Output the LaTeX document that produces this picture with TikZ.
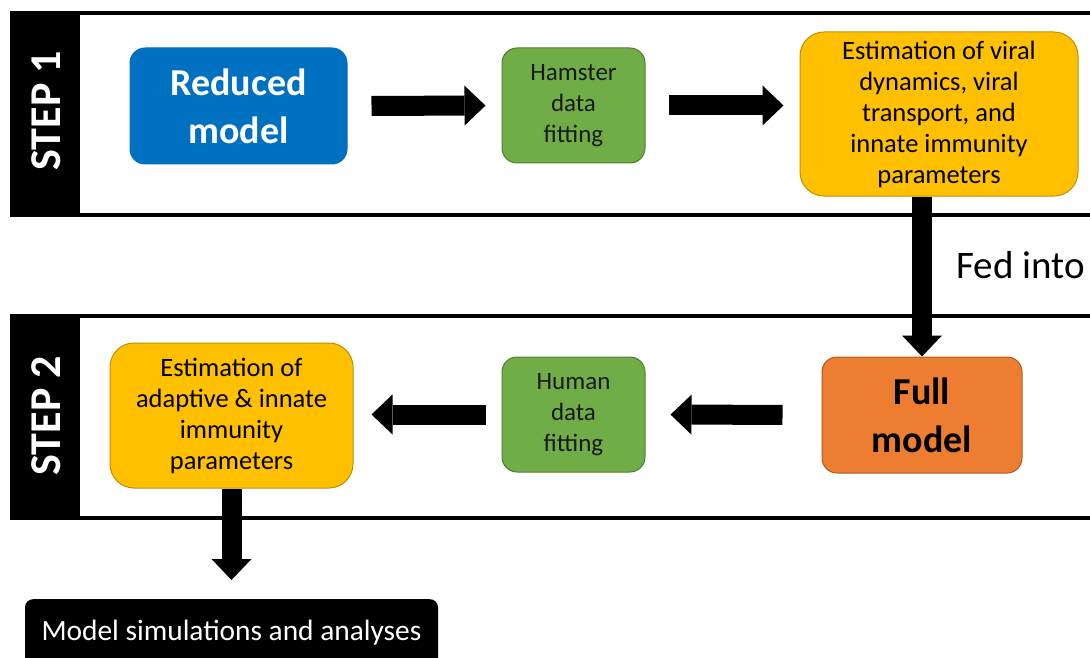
\documentclass[tikz,border=0pt]{standalone}
\usepackage{fontspec}
\setmainfont{Carlito}
\usetikzlibrary{arrows.meta, calc, positioning}
\definecolor{modelblue}{HTML}{0070C0}
\definecolor{fitgreen}{HTML}{70AD47}
\definecolor{fitgreenline}{HTML}{507E32}
\definecolor{estyellow}{HTML}{FFC000}
\definecolor{estyellowline}{HTML}{BF9000}
\definecolor{fullorange}{HTML}{ED7D31}
\definecolor{fullorangeline}{HTML}{AE5A21}
\tikzset{box/.style = {draw, rounded corners=15pt, align=center, inner sep=0pt, line width=1pt}}
\tikzset{model-b/.style = {box, font=\bfseries\fontsize{38}{48}\selectfont}}
\tikzset{fit-b/.style = {box, fill=fitgreen, draw=fitgreenline, text=black!90,
    minimum width=143pt, minimum height=115pt, font=\fontsize{25}{31}\selectfont}}
\tikzset{est-b/.style = {box, fill=estyellow, draw=estyellowline, rounded corners=24pt,
    font=\fontsize{26.5}{31}\selectfont}}
\tikzset{fat/.style = {line width=20pt, -{Triangle[length=21pt, width=40pt, line width=0pt]}}}

\begin{document}
\begin{tikzpicture}[x=1pt, y=-1pt]
  \useasboundingbox (0,0) rectangle (1090,658);
  \clip (0,0) rectangle (1090,658);
  \tikzset{steplabel/.style = {rotate=90, text=white, font=\bfseries\fontsize{44}{44}\selectfont}}

  % the two step frames
  \fill (10,12) rectangle (80,216);
  \draw[line width=4pt] (10,13.5) -- (1100,13.5) (10,214.5) -- (1100,214.5);
  \node[steplabel] (s1) at (46,111) {STEP 1};
  \fill (10,314) rectangle (80,519);
  \draw[line width=4pt] (10,315.5) -- (1100,315.5) (10,517.5) -- (1100,517.5);
  \node[steplabel] (s2) at (46,416) {STEP 2};

  \node[model-b, fill=modelblue, draw=modelblue, text=white,
        minimum width=217pt, minimum height=116pt] (reduced) at (238.5,106) {Reduced\\model};
  \node[fit-b] (hamster) at (573.5,105.5) {Hamster\\data\\fitting};
  \node[est-b, minimum width=278pt, minimum height=164pt] (est1) at (939,114)
    {Estimation of viral\\dynamics, viral\\transport, and\\innate immunity\\parameters};

  \node[model-b, fill=fullorange, draw=fullorangeline, text=black,
        minimum width=200pt, minimum height=116pt] (full) at (922,415) {Full\\model};
  \node[fit-b] (human) at (573.5,414.5) {Human\\data\\fitting};
  \node[est-b, minimum width=243pt, minimum height=145pt] (est2) at (231.5,415.5)
    {Estimation of\\adaptive \& innate\\immunity\\parameters};

  \node[anchor=base west, font=\fontsize{39}{39}\selectfont] (fed) at (953,278) {Fed into};

  \node[fill=black, text=white, rounded corners=8pt, anchor=north, inner ysep=0pt,
        minimum width=413pt, text height=41pt, text depth=40pt,
        font=\fontsize{29.4}{31}\selectfont] (sim) at (231.5,599) {Model simulations and analyses};

  \foreach \i/\o/\a/\b in
  {reduced.east/hamster.west/24/16, hamster.east/est1.west|-hamster.east/23/16,
   full.west/human.east/39/25, human.west/est2.east|-human.west/16/18}
  {
    \draw[fat, shorten <=\a pt, shorten >=\b pt] (\i) -- (\o);
  }
  \draw[fat] (full.north|-est1.south) -- (full.north);
  \draw[fat, shorten >=19pt] (est2.south) -- (sim.north);
\end{tikzpicture}
\end{document}
